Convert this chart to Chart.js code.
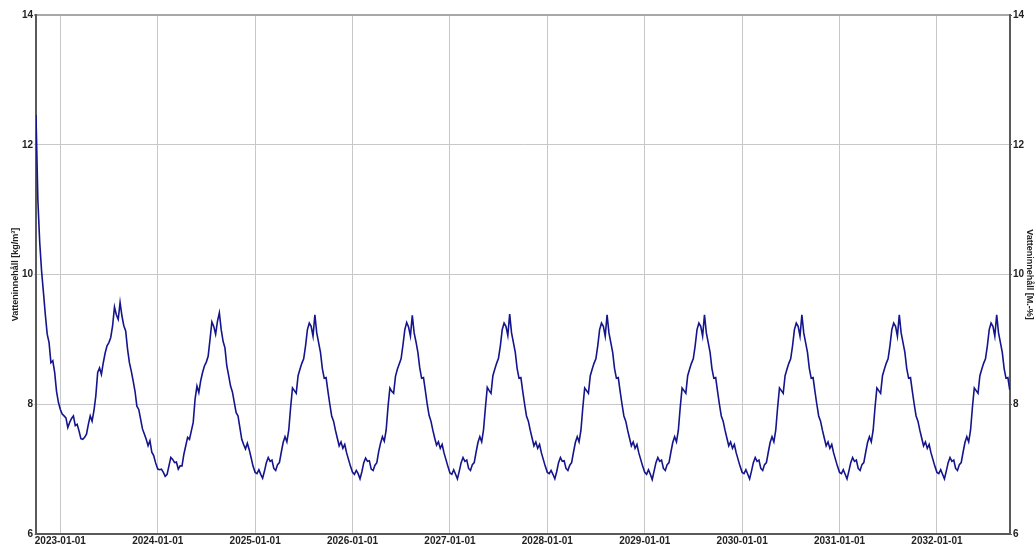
<!DOCTYPE html>
<html>
<head>
<meta charset="utf-8">
<script src="https://cdn.jsdelivr.net/npm/chart.js@4/dist/chart.umd.min.js"></script>
<style>
  body { margin: 0; background: #fff; }
  canvas { display: block; }
</style>
</head>
<body>
<canvas id="chart_wc" width="1035" height="547"></canvas>
<script>
// weekly values (kg/m3)
// start of simulation, 2022-10-01 .. end of december
var wc2022 = [12.46, 11.15, 10.49, 10.05, 9.72, 9.38, 9.08, 8.95, 8.64, 8.67, 8.49, 8.20, 8.03];
var wc2023 = [7.92, 7.85, 7.82, 7.79, 7.64, 7.72, 7.78, 7.82, 7.67, 7.69, 7.59, 7.47, 7.46, 7.49, 7.54, 7.69, 7.82, 7.74, 7.90, 8.13,
  8.49, 8.56, 8.46, 8.64, 8.79, 8.90, 8.95, 9.03, 9.21, 9.50, 9.38, 9.31, 9.57, 9.36, 9.21, 9.13, 8.85, 8.64, 8.51, 8.36,
  8.20, 7.97, 7.92, 7.77, 7.62, 7.54, 7.46, 7.36, 7.44, 7.26, 7.21, 7.10];
var wc2024 = [7.00, 6.99, 7.00, 6.95, 6.89, 6.92, 7.05, 7.18, 7.15, 7.10, 7.11, 7.00, 7.05, 7.05, 7.23, 7.36, 7.49, 7.46, 7.59, 7.72,
  8.08, 8.28, 8.18, 8.36, 8.49, 8.59, 8.65, 8.74, 9.00, 9.27, 9.20, 9.08, 9.28, 9.41, 9.15, 8.97, 8.87, 8.59, 8.44, 8.28,
  8.19, 8.03, 7.87, 7.82, 7.64, 7.46, 7.38, 7.31, 7.40, 7.30, 7.18, 7.05];
var wc2025 = [6.95, 6.93, 6.99, 6.92, 6.86, 6.97, 7.10, 7.18, 7.12, 7.14, 7.01, 6.98, 7.07, 7.10, 7.26, 7.41, 7.50, 7.42, 7.60, 7.95,
  8.25, 8.21, 8.17, 8.44, 8.54, 8.63, 8.70, 8.90, 9.15, 9.25, 9.20, 9.05, 9.38, 9.10, 8.95, 8.80, 8.55, 8.40, 8.41, 8.20,
  8.00, 7.82, 7.74, 7.60, 7.48, 7.36, 7.42, 7.32, 7.38, 7.25, 7.15, 7.05];
var wc2026 = [6.95, 6.92, 6.98, 6.93, 6.85, 6.96, 7.10, 7.17, 7.12, 7.13, 7.00, 6.98, 7.06, 7.10, 7.27, 7.40, 7.50, 7.43, 7.60, 7.96,
  8.25, 8.20, 8.17, 8.43, 8.54, 8.62, 8.70, 8.91, 9.15, 9.26, 9.19, 9.05, 9.37, 9.10, 8.96, 8.80, 8.56, 8.40, 8.41, 8.21,
  8.00, 7.83, 7.74, 7.60, 7.48, 7.37, 7.42, 7.32, 7.38, 7.25, 7.15, 7.05];
var wc2027 = [6.94, 6.92, 6.99, 6.92, 6.85, 6.97, 7.10, 7.18, 7.12, 7.14, 7.01, 6.98, 7.07, 7.10, 7.26, 7.41, 7.50, 7.42, 7.61, 7.95,
  8.26, 8.21, 8.17, 8.44, 8.54, 8.63, 8.71, 8.90, 9.15, 9.25, 9.20, 9.06, 9.39, 9.10, 8.95, 8.80, 8.55, 8.40, 8.41, 8.20,
  8.00, 7.82, 7.74, 7.60, 7.48, 7.36, 7.42, 7.32, 7.38, 7.25, 7.15, 7.05];
var wc2028 = [6.95, 6.93, 6.98, 6.92, 6.85, 6.96, 7.10, 7.18, 7.12, 7.13, 7.01, 6.98, 7.06, 7.10, 7.26, 7.41, 7.50, 7.42, 7.60, 7.95,
  8.25, 8.21, 8.17, 8.44, 8.54, 8.63, 8.70, 8.90, 9.15, 9.25, 9.20, 9.05, 9.38, 9.10, 8.95, 8.80, 8.55, 8.40, 8.41, 8.20,
  8.00, 7.82, 7.74, 7.60, 7.48, 7.36, 7.42, 7.32, 7.38, 7.25, 7.15, 7.05];
var wc2029 = [6.95, 6.92, 6.99, 6.92, 6.84, 6.97, 7.10, 7.18, 7.12, 7.14, 7.01, 6.98, 7.07, 7.10, 7.26, 7.41, 7.50, 7.42, 7.60, 7.95,
  8.25, 8.21, 8.17, 8.44, 8.54, 8.63, 8.70, 8.90, 9.15, 9.25, 9.20, 9.05, 9.38, 9.10, 8.95, 8.80, 8.55, 8.40, 8.41, 8.20,
  8.00, 7.82, 7.74, 7.60, 7.48, 7.36, 7.42, 7.32, 7.38, 7.25, 7.15, 7.05];
var wc2030 = [6.95, 6.93, 6.99, 6.92, 6.85, 6.97, 7.10, 7.18, 7.12, 7.14, 7.01, 6.98, 7.07, 7.10, 7.26, 7.41, 7.50, 7.42, 7.60, 7.95,
  8.25, 8.21, 8.17, 8.44, 8.54, 8.63, 8.70, 8.90, 9.15, 9.25, 9.20, 9.05, 9.38, 9.10, 8.95, 8.80, 8.55, 8.40, 8.41, 8.20,
  8.00, 7.82, 7.74, 7.60, 7.48, 7.36, 7.42, 7.32, 7.38, 7.25, 7.15, 7.05];
var wc2031 = [6.95, 6.93, 6.99, 6.92, 6.85, 6.97, 7.10, 7.18, 7.12, 7.14, 7.01, 6.98, 7.07, 7.10, 7.26, 7.41, 7.50, 7.42, 7.60, 7.95,
  8.25, 8.21, 8.17, 8.44, 8.54, 8.63, 8.70, 8.90, 9.15, 9.25, 9.20, 9.05, 9.38, 9.10, 8.95, 8.80, 8.55, 8.40, 8.41, 8.20,
  8.00, 7.82, 7.74, 7.60, 7.48, 7.36, 7.42, 7.32, 7.38, 7.25, 7.15, 7.05];
// last year, ends end of september
var wc2032 = [6.95, 6.93, 6.99, 6.92, 6.85, 6.97, 7.10, 7.18, 7.12, 7.14, 7.01, 6.98, 7.07, 7.10, 7.26, 7.41, 7.50, 7.42, 7.60, 7.95,
  8.25, 8.21, 8.17, 8.44, 8.54, 8.63, 8.70, 8.90, 9.15, 9.25, 9.20, 9.05, 9.38, 9.10, 8.95, 8.80, 8.55, 8.40, 8.41, 8.22];

var yearTicks = [2023, 2024, 2025, 2026, 2027, 2028, 2029, 2030, 2031, 2032];
var xStart = 2022.75;
var xEnd = 2032.75;

var leftTitle = 'Vatteninnehåll [kg/m³]';
var rightTitle = 'Vatteninnehåll [M.-%]';

// put all weeks together, x is decimal year
var points = [];
function addYear(start, values) {
    values.forEach((v, i) => {
        points.push({ x: start + i * 7 / 365.25, y: v });
    });
}
addYear(2022.75, wc2022);
addYear(2023, wc2023);
addYear(2024, wc2024);
addYear(2025, wc2025);
addYear(2026, wc2026);
addYear(2027, wc2027);
addYear(2028, wc2028);
addYear(2029, wc2029);
addYear(2030, wc2030);
addYear(2031, wc2031);
addYear(2032, wc2032);

var tickFont = { family: 'Liberation Sans', size: 10, weight: 'bold' };
var gridColor = '#c8c8c8';
var frameColor = '#5a5a5a';

var ctxWC = document.getElementById('chart_wc').getContext('2d');

var configWC = {
    type: 'line',
    data: {
        datasets: [{
            label: 'Vatteninnehåll',
            data: points,
            borderColor: '#14148c',
            borderWidth: 1.6,
            pointRadius: 0,
            tension: 0,
            fill: false
        }]
    },
    options: {
        responsive: false,
        animation: false,
        layout: { padding: { top: 15, left: 0, right: 0, bottom: 0 } },
        plugins: {
            legend: { display: false },
            tooltip: { enabled: false }
        },
        scales: {
            x: {
                type: 'linear',
                min: xStart,
                max: xEnd,
                afterBuildTicks: function (scale) {
                    scale.ticks = yearTicks.map(v => ({ value: v }));
                },
                afterFit: function (scale) { scale.height = 13; },
                ticks: {
                    autoSkip: false,
                    maxRotation: 0,
                    padding: 1,
                    color: '#222',
                    font: tickFont,
                    callback: function (v) { return v + '-01-01'; }
                },
                grid: { color: gridColor, lineWidth: 1, drawTicks: false },
                border: { color: frameColor, width: 2 }
            },
            y: {
                position: 'left',
                min: 6,
                max: 14,
                afterFit: function (scale) { scale.width = 36; },
                ticks: { stepSize: 2, padding: 1, color: '#222', font: tickFont },
                grid: {
                    color: function (c) { return c.tick && c.tick.value === 14 ? '#a8a8a8' : gridColor; },
                    lineWidth: function (c) { return c.tick && c.tick.value === 14 ? 2 : 1; },
                    tickLength: 2
                },
                border: { color: frameColor, width: 2 },
                title: {
                    display: true,
                    text: leftTitle,
                    color: '#222',
                    font: { family: 'Liberation Sans', size: 9, weight: 'bold' },
                    padding: { top: 10, bottom: 0 }
                }
            },
            y2: {
                position: 'right',
                min: 6,
                max: 14,
                afterFit: function (scale) { scale.width = 25; },
                ticks: { stepSize: 2, padding: 1, color: '#222', font: tickFont },
                grid: { drawOnChartArea: false, tickLength: 2, color: frameColor },
                border: { color: frameColor, width: 2 },
                title: {
                    display: true,
                    text: rightTitle,
                    color: '#222',
                    font: { family: 'Liberation Sans', size: 9, weight: 'bold' },
                    padding: { top: 0, bottom: 0 }
                }
            }
        }
    }
};

var ChartWC = new Chart(ctxWC, configWC);
</script>
</body>
</html>
